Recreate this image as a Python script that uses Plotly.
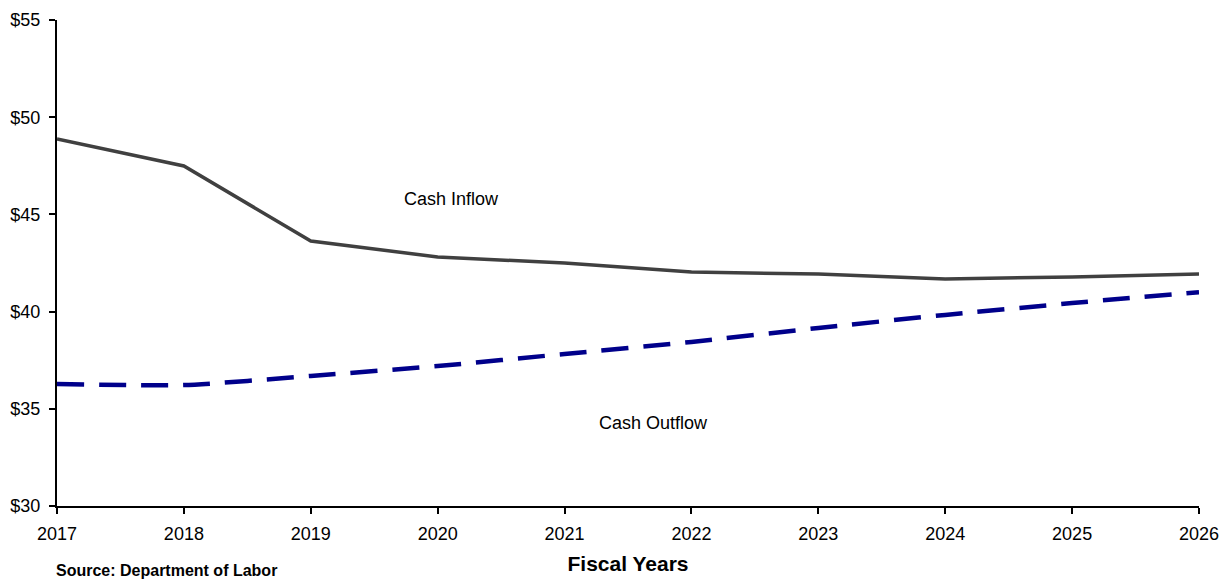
import plotly.graph_objects as go

years = [2017, 2018, 2019, 2020, 2021, 2022, 2023, 2024, 2025, 2026]
cash_inflow = [48.88, 47.49, 43.63, 42.81, 42.50, 42.04, 41.93, 41.68, 41.78, 41.93]
cash_outflow = [36.28, 36.22, 36.69, 37.20, 37.82, 38.44, 39.16, 39.83, 40.44, 41.00]
y_ticks = [30, 35, 40, 45, 50, 55]

font = "Liberation Sans, Arial, sans-serif"

fig = go.Figure()
fig.add_trace(go.Scatter(x=years, y=cash_inflow, mode="lines",
                         line=dict(color="#404040", width=3.5)))
fig.add_trace(go.Scatter(x=years, y=cash_outflow, mode="lines",
                         line=dict(color="#00008B", width=4.5, dash="27px,15px",
                                   shape="spline", smoothing=0.6)))

fig.add_annotation(x=2020.11, y=45.79, text="Cash Inflow", showarrow=False,
                   font=dict(size=18, color="black", family=font))
fig.add_annotation(x=2021.70, y=34.27, text="Cash Outflow", showarrow=False,
                   font=dict(size=18, color="black", family=font))
fig.add_annotation(x=0, y=-0.132, xref="paper", yref="paper", xanchor="left", yanchor="middle",
                   xshift=-3, text="<b>Source: Department of Labor</b>", showarrow=False,
                   font=dict(size=16, color="black", family=font))

# page body has an 8px margin, so the figure is a bit smaller than the window
fig.update_layout(
    width=1222, height=572,
    margin=dict(l=49, r=31, t=12, b=74),
    plot_bgcolor="white", paper_bgcolor="white",
    showlegend=False,
    font=dict(family=font, color="black"),
    xaxis=dict(range=[2017, 2026], tickvals=years, ticks="outside", ticklen=6, tickwidth=1.5,
               tickcolor="black", showline=True, linecolor="black", linewidth=2,
               showgrid=False, zeroline=False, tickfont=dict(size=18), automargin=False,
               ticklabelstandoff=4,
               title=dict(text="<b>Fiscal Years</b>", font=dict(size=21), standoff=14)),
    yaxis=dict(range=[30, 55], tickvals=y_ticks, ticktext=["$%d" % v for v in y_ticks],
               ticks="outside", ticklen=6, tickwidth=1.5, tickcolor="black",
               showline=True, linecolor="black", linewidth=2, automargin=False,
               ticklabelstandoff=5,
               showgrid=False, zeroline=False, tickfont=dict(size=18)),
)

fig.write_html("out.html")
